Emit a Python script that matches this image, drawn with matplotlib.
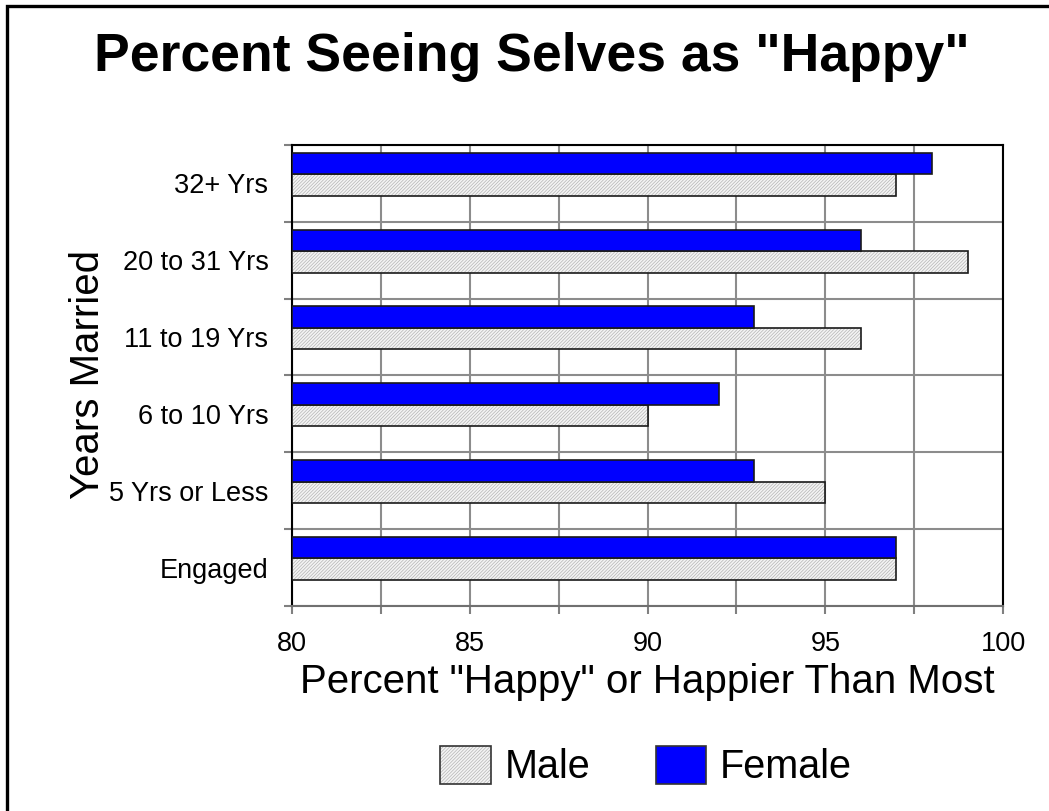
import numpy as np
import matplotlib
matplotlib.use("Agg")
from matplotlib import pyplot as plt
from matplotlib.lines import Line2D
from matplotlib.patches import Patch

plt.rcParams['font.family'] = ['Liberation Sans', 'DejaVu Sans']
plt.rcParams['hatch.linewidth'] = 0.5

# Years married groups, bottom to top
groups = ["Engaged", "5 Yrs or Less", "6 to 10 Yrs", "11 to 19 Yrs", "20 to 31 Yrs", "32+ Yrs"]
male = [97, 95, 90, 96, 99, 97]
female = [97, 93, 92, 93, 96, 98]

fig = plt.figure(figsize=(10.49, 8.11), dpi=100)
ax = fig.add_axes([0.2784, 0.2528, 0.6778, 0.5684])

y = np.arange(len(groups))
h = 0.28
edge = '#1a1a1a'
hatch = '//////////'
hatch_col = '#b4b4b4'

# male bars: grey hatch underneath, dark outline on top
ax.barh(y - 0.02, np.array(male) - 80, h, left=80, color='#f4f4f4',
        hatch=hatch, edgecolor=hatch_col, linewidth=0, zorder=3)
ax.barh(y - 0.02, np.array(male) - 80, h, left=80, fill=False,
        edgecolor=edge, linewidth=1.2, zorder=4)
ax.barh(y + 0.26, np.array(female) - 80, h, left=80, color='#0000ff',
        edgecolor=edge, linewidth=1.2, zorder=4)

ax.set_xlim(80, 100)
ax.set_ylim(-0.5, len(groups) - 0.5)

ax.set_xticks(np.arange(80, 101, 5))
ax.set_xticks(np.arange(82.5, 100, 5), minor=True)
ax.set_yticks(np.arange(-0.5, len(groups), 1.0))
ax.set_yticklabels([])
ax.set_yticks(y, minor=True)
ax.set_yticklabels(groups, minor=True)

ax.tick_params(axis='x', which='both', length=6, width=1.5, color='#808080',
               labelsize=19.5, pad=12)
ax.tick_params(axis='y', which='major', length=6, width=1.5, color='#808080')
ax.tick_params(axis='y', which='minor', length=0, labelsize=19.5, pad=17)

ax.grid(True, which='major', color='#8c8c8c', linewidth=1.5, zorder=0)
ax.grid(True, which='minor', axis='x', color='#8c8c8c', linewidth=1.5, zorder=0)
ax.set_axisbelow(True)

for s in ['left', 'top', 'right']:
    ax.spines[s].set_color('black')
    ax.spines[s].set_linewidth(1.5)
ax.spines['bottom'].set_color('#707070')
ax.spines['bottom'].set_linewidth(1.5)

ax.set_xlabel('Percent "Happy" or Happier Than Most', fontsize=29, labelpad=4)
fig.text(0.084, 1 - 374 / 811, 'Years Married', fontsize=29, rotation=90,
         ha='center', va='center')

fig.text(0.507, 0.930, 'Percent Seeing Selves as "Happy"', fontsize=38.5,
         fontweight='bold', ha='center', va='center')

# frame around the page
fig.add_artist(Line2D([7 / 1049, 7 / 1049, 1.0], [0.0, 1 - 6 / 811, 1 - 6 / 811],
                      color='black', linewidth=2.4, solid_joinstyle='miter'))

male_handle = (Patch(facecolor='#f4f4f4', hatch=hatch, edgecolor=hatch_col, linewidth=0),
               Patch(fill=False, edgecolor='#333333', linewidth=1.2))
female_handle = Patch(facecolor='#0000ff', edgecolor='#333333', linewidth=1.2)
fig.legend([male_handle, female_handle], ['Male', 'Female'], loc='center',
           bbox_to_anchor=(0.616, 1 - 766 / 811), ncol=2, frameon=False,
           fontsize=28.5, handlelength=1.28, handleheight=1.12,
           handletextpad=0.35, columnspacing=1.65)

fig.savefig('out.png', dpi=100)
